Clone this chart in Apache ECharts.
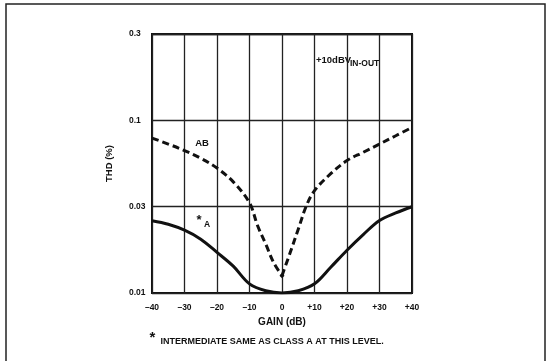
<!DOCTYPE html>
<html>
<head>
<meta charset="utf-8">
<script src="https://cdn.jsdelivr.net/npm/echarts@6/dist/echarts.min.js"></script>
<style>
  html, body { margin: 0; padding: 0; background: #fff; }
  #chart { width: 550px; height: 361px; }
</style>
</head>
<body>
<div id="chart"></div>
<script>
// Gain sweep (dB) and THD (%) for class A operation
var gainA = [-40, -35, -30, -25, -20, -15, -10, -5, 0, 5, 10, 15, 20, 25, 30, 35, 40];
var thdA  = [0.0262, 0.0250, 0.0231, 0.0205, 0.0172, 0.0143, 0.0113, 0.0103, 0.0100,
             0.0103, 0.0113, 0.0141, 0.0177, 0.0218, 0.0263, 0.0291, 0.0316];

// Gain sweep (dB) and THD (%) for class AB operation
var gainAB = [-40, -35, -30, -25, -20, -15, -10, -7.5, -5, -2.5, 0,
              2.5, 5, 7.5, 10, 15, 20, 25, 30, 35, 40];
var thdAB  = [0.0789, 0.0729, 0.0668, 0.0603, 0.0529, 0.0440, 0.0333, 0.0245, 0.0192, 0.0149, 0.0126,
              0.0171, 0.0234, 0.0320, 0.0392, 0.0491, 0.0585, 0.0653, 0.0729, 0.0814, 0.0910];

// Axis ranges and tick labels
var gainTicks = [-40, -30, -20, -10, 0, 10, 20, 30, 40];
var thdTickLabels = ['0.01', '0.03', '0.1', '0.3'];

var FONT = '"Liberation Sans", Arial, Helvetica, sans-serif';
var INK = '#111';

function pairs(xs, ys) {
  return xs.map(function (x, i) { return [x, ys[i]]; });
}

// The AB curve has a cusp at 0 dB, so each side is drawn as its own smooth branch
var abAll = pairs(gainAB, thdAB);
var cusp = gainAB.indexOf(0);
var abLeft = abAll.slice(0, cusp + 1);
var abRight = abAll.slice(cusp);

function gainLabel(v) {
  if (v > 0) return '+' + v;
  if (v < 0) return '\u2013' + Math.abs(v);
  return '0';
}

var chart = echarts.init(document.getElementById('chart'), null, { renderer: 'canvas' });

chart.setOption({
  animation: false,
  backgroundColor: '#fff',
  textStyle: { fontFamily: FONT, color: INK },
  grid: {
    left: 152, right: 138, top: 34, bottom: 68,
    show: true, borderColor: INK, borderWidth: 2, backgroundColor: 'transparent'
  },
  xAxis: {
    type: 'value',
    min: gainTicks[0],
    max: gainTicks[gainTicks.length - 1],
    interval: 10,
    name: 'GAIN (dB)',
    nameLocation: 'middle',
    nameGap: 24,
    nameTextStyle: { fontSize: 10, fontWeight: 'bold', color: INK, fontFamily: FONT },
    axisLine: { show: false },
    axisTick: { show: false },
    axisLabel: {
      fontSize: 8.5, fontWeight: 'bold', color: INK, margin: 10, fontFamily: FONT,
      formatter: gainLabel
    },
    splitLine: { show: true, lineStyle: { color: '#222', width: 1.3 } }
  },
  yAxis: {
    type: 'log',
    logBase: Math.sqrt(10),
    min: 0.01,
    max: Math.pow(10, -0.5),
    name: 'THD (%)',
    nameLocation: 'middle',
    nameGap: 38,
    nameRotate: 90,
    nameTextStyle: { fontSize: 9.5, fontWeight: 'bold', color: INK, fontFamily: FONT },
    axisLine: { show: false },
    axisTick: { show: false },
    axisLabel: {
      fontSize: 8.5, fontWeight: 'bold', color: INK, margin: 23, align: 'left', fontFamily: FONT,
      formatter: function (v) {
        var s = Number(v.toPrecision(1));
        var match = thdTickLabels.filter(function (t) { return Number(t) === s; });
        return match.length ? match[0] : String(s);
      }
    },
    splitLine: { show: true, lineStyle: { color: '#222', width: 1.3 } }
  },
  series: [
    {
      name: 'A',
      type: 'line',
      data: pairs(gainA, thdA),
      smooth: 0.35,
      symbol: 'none',
      lineStyle: { color: INK, width: 3 },
      z: 3
    },
    {
      name: 'AB',
      type: 'line',
      data: abLeft,
      smooth: 0.35,
      symbol: 'none',
      lineStyle: { color: INK, width: 3, type: [7, 4] },
      z: 3
    },
    {
      name: 'AB',
      type: 'line',
      data: abRight.map(function (p, i) {
        return i === 0 ? { value: p, symbol: 'diamond', symbolSize: 5 } : { value: p, symbol: 'none' };
      }),
      smooth: 0.35,
      showSymbol: true,
      itemStyle: { color: INK },
      lineStyle: { color: INK, width: 3, type: [7, 4] },
      z: 3
    }
  ],
  graphic: [
    // outer frame of the figure
    {
      type: 'rect',
      shape: { x: 6, y: 4, width: 539, height: 380 },
      style: { fill: 'none', stroke: '#222', lineWidth: 1.5 },
      silent: true
    },
    {
      type: 'text', x: 316, y: 60,
      style: { text: '+10dBV', font: 'bold 9.5px ' + FONT, fill: INK, align: 'left', verticalAlign: 'middle' }
    },
    {
      type: 'text', x: 350, y: 63.5,
      style: { text: 'IN-OUT', font: 'bold 8.5px ' + FONT, fill: INK, align: 'left', verticalAlign: 'middle' }
    },
    {
      type: 'text', x: 202, y: 143,
      style: { text: 'AB', font: 'bold 9.5px ' + FONT, fill: INK, align: 'center', verticalAlign: 'middle' }
    },
    {
      type: 'text', x: 196.5, y: 220,
      style: { text: '*', font: 'bold 13px ' + FONT, fill: INK, align: 'left', verticalAlign: 'middle' }
    },
    {
      type: 'text', x: 204, y: 224.5,
      style: { text: 'A', font: 'bold 8.5px ' + FONT, fill: INK, align: 'left', verticalAlign: 'middle' }
    },
    {
      type: 'text', x: 149.5, y: 337.5,
      style: { text: '*', font: 'bold 15px ' + FONT, fill: INK, align: 'left', verticalAlign: 'middle' }
    },
    {
      type: 'text', x: 160.5, y: 342,
      style: { text: 'INTERMEDIATE SAME AS CLASS A AT THIS LEVEL.', font: 'bold 9px ' + FONT, fill: INK, align: 'left', verticalAlign: 'middle' }
    }
  ]
});
</script>
</body>
</html>
